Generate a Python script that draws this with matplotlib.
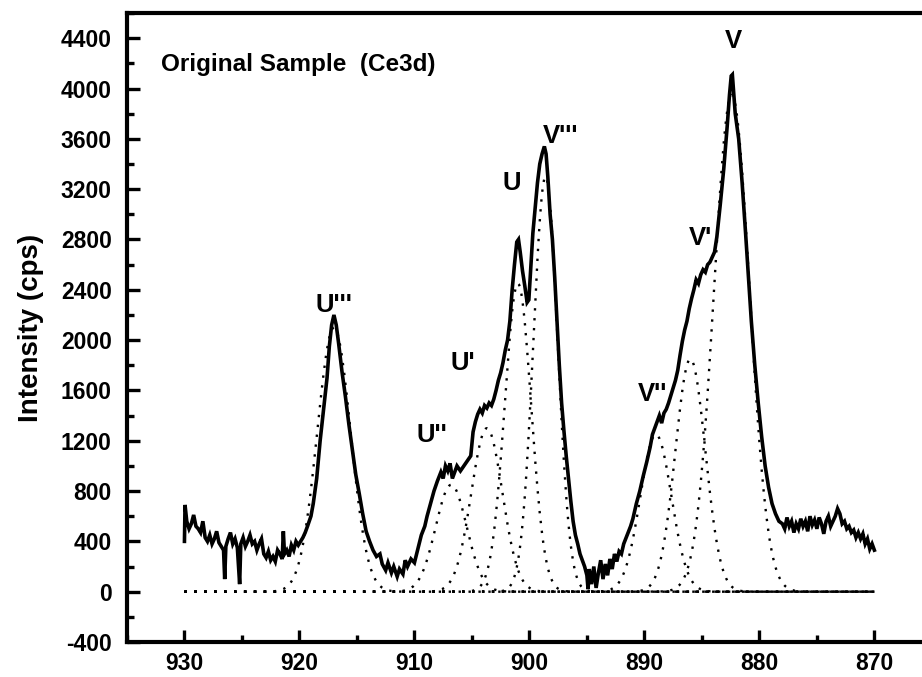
import numpy as np
import matplotlib
matplotlib.use('Agg')
import matplotlib.pyplot as plt
from matplotlib.ticker import MultipleLocator

plt.rcParams['font.family'] = ['Liberation Sans', 'DejaVu Sans']
plt.rcParams['font.weight'] = 'bold'
plt.rcParams['axes.unicode_minus'] = False

# measured Ce3d spectrum: binding energy (eV) and intensity (cps)
energy = [
    930.0, 929.95, 929.8, 929.6, 929.4, 929.2, 929.0, 928.8, 928.6, 928.4,
    928.2, 928.0, 927.8, 927.6, 927.4, 927.2, 927.0, 926.8, 926.6, 926.5,
    926.4, 926.2, 926.0, 925.8, 925.6, 925.4, 925.2, 925.1, 924.9, 924.7,
    924.5, 924.3, 924.1, 923.9, 923.7, 923.5, 923.3, 923.1, 922.9, 922.7,
    922.5, 922.3, 922.1, 921.9, 921.7, 921.5, 921.4, 921.3, 921.1, 920.9,
    920.7, 920.5, 920.3, 920.1, 919.9, 919.7, 919.5, 919.3, 919.0, 918.8,
    918.5, 918.2, 917.9, 917.6, 917.4, 917.2, 917.0, 916.8, 916.6, 916.3,
    916.0, 915.7, 915.4, 915.1, 914.8, 914.5, 914.2, 913.9, 913.6, 913.3,
    913.0, 912.8, 912.5, 912.3, 912.0, 911.8, 911.5, 911.3, 911.0, 910.8,
    910.6, 910.3, 910.0, 909.7, 909.4, 909.1, 908.9, 908.6, 908.3, 908.0,
    907.7, 907.5, 907.3, 907.1, 906.9, 906.7, 906.5, 906.3, 906.0, 905.7,
    905.4, 905.1, 904.9, 904.7, 904.5, 904.3, 904.1, 903.9, 903.7, 903.5,
    903.3, 903.1, 902.9, 902.7, 902.5, 902.3, 902.1, 901.9, 901.7, 901.5,
    901.3, 901.1, 900.95, 900.8, 900.6, 900.4, 900.2, 900.05, 899.9, 899.7,
    899.5, 899.3, 899.1, 898.9, 898.7, 898.55, 898.4, 898.2, 898.0, 897.8,
    897.6, 897.4, 897.2, 897.0, 896.8, 896.6, 896.4, 896.2, 896.0, 895.8,
    895.6, 895.4, 895.2, 895.0, 894.9, 894.8, 894.6, 894.4, 894.2, 894.0,
    893.8, 893.6, 893.4, 893.2, 893.0, 892.8, 892.6, 892.4, 892.2, 892.0,
    891.8, 891.5, 891.2, 891.0, 890.7, 890.4, 890.1, 889.8, 889.5, 889.3,
    889.1, 888.9, 888.7, 888.5, 888.3, 888.1, 887.9, 887.7, 887.5, 887.3,
    887.1, 886.9, 886.7, 886.5, 886.3, 886.1, 885.9, 885.7, 885.5, 885.3,
    885.1, 884.9, 884.7, 884.5, 884.3, 884.1, 883.9, 883.7, 883.4, 883.1,
    882.8, 882.6, 882.45, 882.35, 882.1, 881.8, 881.5, 881.2, 881.0, 880.7,
    880.4, 880.1, 879.8, 879.5, 879.2, 878.9, 878.6, 878.3, 878.0, 877.8,
    877.6, 877.4, 877.2, 877.0, 876.8, 876.6, 876.4, 876.2, 876.0, 875.8,
    875.6, 875.4, 875.2, 875.0, 874.8, 874.6, 874.4, 874.2, 874.0, 873.8,
    873.6, 873.4, 873.2, 873.0, 872.8, 872.6, 872.4, 872.2, 872.0, 871.8,
    871.6, 871.4, 871.2, 871.0, 870.8, 870.6, 870.4, 870.2, 870.0,
]
intensity = [
    400, 690, 560, 500, 540, 610, 520, 500, 470, 560,
    430, 400, 450, 380, 420, 480, 390, 360, 330, 100,
    360, 420, 470, 380, 420, 350, 60, 380, 430, 360,
    400, 450, 380, 400, 330, 380, 420, 300, 270, 320,
    250, 280, 240, 330, 300, 260, 480, 300, 330, 280,
    370, 330, 400, 370, 400, 430, 470, 520, 600, 700,
    900, 1200, 1450, 1700, 1950, 2120, 2200, 2120, 1980, 1750,
    1550, 1330, 1130, 930, 780, 620, 480, 400, 330, 280,
    300, 220, 170, 230, 150, 200, 120, 180, 140, 250,
    200, 260, 230, 340, 450, 520, 600, 700, 800, 880,
    950, 900, 1000, 960, 1020, 900, 950, 1000, 960, 1000,
    1040, 1080, 1270, 1350, 1410, 1450, 1420, 1480, 1460, 1500,
    1480, 1530, 1600, 1680, 1740, 1820, 1920, 2000, 2150, 2400,
    2600, 2780, 2800, 2700, 2550, 2430, 2300, 2320, 2550, 2850,
    3050, 3250, 3400, 3480, 3540, 3480, 3300, 3000, 2800, 2500,
    2150, 1800, 1500, 1280, 1080, 900, 720, 560, 450, 380,
    300, 250, 200, 130, 20, 180, 60, 200, 30, 150,
    250, 100, 220, 130, 260, 180, 300, 240, 320, 300,
    380, 450, 520, 580, 700, 800, 920, 1030, 1150, 1250,
    1300, 1350, 1400, 1340, 1420, 1450, 1500, 1560, 1620, 1680,
    1760, 1880, 1990, 2080, 2150, 2250, 2330, 2400, 2480, 2450,
    2520, 2560, 2540, 2600, 2620, 2660, 2700, 2820, 3080, 3360,
    3700, 3950, 4100, 4110, 3800, 3600, 3250, 2850, 2570, 2150,
    1800, 1500, 1230, 1000, 830, 700, 620, 560, 540, 500,
    590, 520, 560, 470, 540, 500, 580, 520, 560, 480,
    600, 530, 570, 500, 590, 540, 460, 560, 600, 520,
    560, 600, 660, 620, 540, 560, 500, 520, 470, 490,
    430, 470, 420, 460, 380, 420, 340, 380, 330,
]

# fitted components: peak label, centre (eV), height (cps), width (eV)
peak_names = ["U'''", "U''", "U'", "U", "V'''", "V''", "V'", "V"]
peak_centres = [917.0, 906.8, 903.7, 901.0, 898.6, 889.0, 886.0, 882.4]
peak_heights = [2100, 850, 1300, 2450, 3300, 1250, 1850, 3950]
peak_widths = [1.45, 1.35, 1.35, 1.15, 1.05, 1.35, 1.3, 1.55]

# label anchor points (eV, cps)
label_x = [917.0, 908.5, 905.8, 901.5, 897.3, 889.3, 885.1, 882.3]
label_y = [2180, 1150, 1720, 3150, 3530, 1480, 2720, 4280]

fig = plt.figure(figsize=(9.22, 6.77), dpi=100)
ax = fig.add_axes([0.1377, 0.0517, 0.873, 0.929])

grid = np.linspace(930, 870, 601)
for c, h, w in zip(peak_centres, peak_heights, peak_widths):
    comp = h * np.exp(-(grid - c) ** 2 / (2 * w ** 2))
    ax.plot(grid, comp, color='black', lw=1.7, linestyle=(0, (1, 3.2)))

ax.plot(energy, intensity, color='black', lw=2.6, solid_joinstyle='miter')

for name, lx, ly in zip(peak_names, label_x, label_y):
    ax.text(lx, ly, name, fontsize=18.5, fontweight='bold', ha='center', va='bottom')

ax.text(932.0, 4190, 'Original Sample  (Ce3d)', fontsize=17.5, fontweight='bold',
        ha='left', va='center')

ax.set_xlim(935, 865)
ax.set_ylim(-400, 4600)
ax.set_xticks([930, 920, 910, 900, 890, 880, 870])
ax.xaxis.set_minor_locator(MultipleLocator(5))
ax.set_yticks(np.arange(-400, 4401, 400))
ax.yaxis.set_minor_locator(MultipleLocator(200))
ax.tick_params(which='both', direction='in', width=2.4, labelsize=16.5)
ax.tick_params(which='major', length=9)
ax.tick_params(which='minor', length=5)
ax.tick_params(axis='y', pad=11)
ax.tick_params(axis='x', pad=7)
for lbl in ax.get_xticklabels() + ax.get_yticklabels():
    lbl.set_fontweight('bold')
for side in ['left', 'bottom', 'top']:
    ax.spines[side].set_linewidth(3.0)
ax.spines['right'].set_visible(False)

ax.set_ylabel('Intensity (cps)', fontsize=20, fontweight='bold', labelpad=12)

fig.savefig('out.png', dpi=100)
